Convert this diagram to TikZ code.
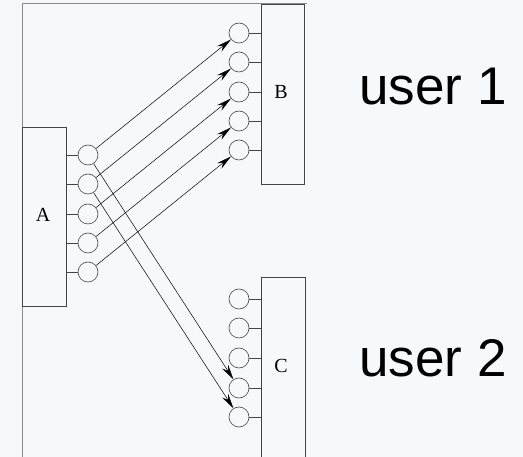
\documentclass[tikz,border=0pt]{standalone}
\usepackage{fontspec}
\newfontfamily\userfont{Liberation Sans}
\newfontfamily\boxfont{Liberation Serif}
\usetikzlibrary{arrows.meta}
\definecolor{bg}{HTML}{F7F8FA}
\definecolor{frame}{HTML}{8A8A8A}
\definecolor{ink}{HTML}{444444}
\tikzset{
  port/.style={circle,draw=ink,line width=0.6pt,minimum size=20pt,inner sep=0pt},
  unitbox/.style={draw=ink,line width=0.7pt,fill=bg},
  stub/.style={draw=ink,line width=0.6pt},
  link/.style={draw=black,line width=0.5pt,-{Stealth[length=15pt,width=7pt,inset=5pt]}},
  boxlabel/.style={font=\boxfont\fontsize{20}{20}\selectfont},
  userlabel/.style={font=\userfont\fontsize{53}{53}\selectfont}
}
\begin{document}
\begin{tikzpicture}[x=1pt,y=-1pt]
\fill[bg] (0,0) rectangle (523,457);
\clip (0,0) rectangle (523,457);
% frame
\draw[frame,line width=0.8pt] (22,460) -- (22,3) -- (307,3);
% boxes
\draw[unitbox] (22,127) rectangle (66,306);
\draw[unitbox] (261,4) rectangle (304,184);
\draw[unitbox] (261,277) rectangle (305,470);
\node[boxlabel] (A) at (43,215) {A};
\node[boxlabel] (B) at (281,92) {B};
\node[boxlabel] (C) at (281,366) {C};
\coordinate (Ae) at (66,0);
\coordinate (Be) at (261,0);
% ports
\foreach \i/\y in {1/155,2/184,3/214,4/243,5/272}{
  \node[port] (a\i) at (88,\y) {};
  \draw[stub] (a\i.west) -- (Ae |- a\i.west);
}
\foreach \i/\y in {1/33,2/62,3/92,4/121,5/150}{
  \node[port] (b\i) at (239,\y) {};
  \draw[stub] (b\i.east) -- (Be |- b\i.east);
}
\foreach \i/\y in {1/299,2/328,3/358,4/388,5/417}{
  \node[port] (c\i) at (239,\y) {};
  \draw[stub] (c\i.east) -- (Be |- c\i.east);
}
% links
\foreach \i in {1,...,5}{
  \draw[link] (a\i) -- (b\i);
}
\draw[link] (a1) -- (c4);
\draw[link] (a2) -- (c5);
% user labels
\node[userlabel] (u1) at (433,87) {user 1};
\node[userlabel] (u2) at (433,358) {user 2};
\end{tikzpicture}
\end{document}
